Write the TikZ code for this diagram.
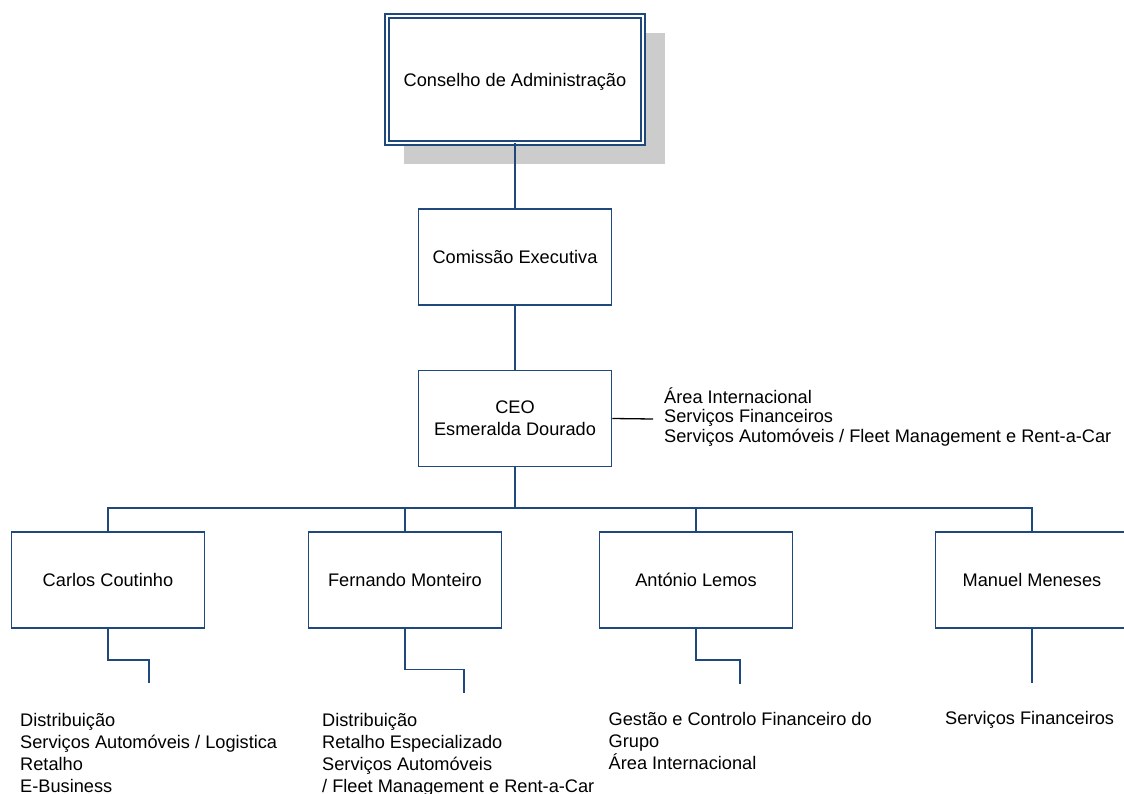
\documentclass[tikz,border=0pt]{standalone}
\usepackage{fontspec}
\setmainfont{Liberation Sans}
\usepackage{xcolor}
\usepackage{tikz}
\usetikzlibrary{backgrounds,calc}
\definecolor{orgblue}{HTML}{1F497D}
\definecolor{shadowgray}{gray}{0.8}
\newcommand{\orgfont}{\fontsize{18.2pt}{22pt}\selectfont}
\newcommand{\notefont}{\fontsize{18.2pt}{19.7pt}\selectfont}

\begin{document}
\begin{tikzpicture}[x=1pt,y=-1pt,font=\orgfont,
  unit/.style={draw=orgblue,line width=1.6pt,fill=white,minimum width=193pt,minimum height=96pt,align=center,inner sep=2pt},
  link/.style={draw=orgblue,line width=1.6pt},
  list/.style={anchor=north west,inner sep=0pt,align=left}]
\useasboundingbox (0,0) rectangle (1124,794);
% board with shadow
\node[unit,double=white,line width=1.4pt,double distance=2.6pt,minimum width=256pt,minimum height=127pt,outer sep=0pt,text depth=0pt] (board) at (515,79.5) {Conselho de Administração};
\begin{scope}[on background layer]
\fill[shadowgray] ($(board.north west)+(17,17)$) rectangle ($(board.south east)+(22,21)$);
\end{scope}
\node[unit] (exec) at (515,257) {Comissão Executiva};
\node[unit] (ceo) at (515,418.5) {CEO\\Esmeralda Dourado};
\foreach \nm/\x/\who in {carlos/108/Carlos Coutinho,fernando/405/Fernando Monteiro,antonio/696/António Lemos,manuel/1032/Manuel Meneses}
  \node[unit] (\nm) at (\x,580) {\who};
% side note of the ceo
\node[list,font=\notefont] (ceonote) at (664,387.2) {\strut Área Internacional\\Serviços Financeiros\\Serviços Automóveis / Fleet Management e Rent-a-Car};
\coordinate (ceotap) at (653,419);
\draw[line width=1.3pt] (ceo.east) -- (ceotap);
% tree
\coordinate (hub) at (515,507.7);
\draw[link] (board.south) -- (exec.north);
\draw[link] (exec.south) -- (ceo.north);
\draw[link] (ceo.south) -- (hub);
\draw[link] (carlos.north) |- (hub) -| (manuel.north);
\foreach \nm in {fernando,antonio}
  \draw[link] (\nm.north) -- (\nm.north |- hub);
% areas below each director
\coordinate (carlosend) at (149,683);
\coordinate (fernandoend) at (464,693);
\coordinate (antonioend) at (740,684);
\coordinate (manuelend) at (1032,683.3);
\draw[link] (carlos.south) -- ++(0,31) -| (carlosend);
\draw[link] (fernando.south) -- ++(0,40.5) -| (fernandoend);
\draw[link] (antonio.south) -- ++(0,31) -| (antonioend);
\draw[link] (manuel.south) -- (manuelend);
\node[list] (carloslist) at (20,710.6) {\strut Distribuição\\Serviços Automóveis / Logistica\\Retalho\\E-Business};
\node[list] (fernandolist) at (322,710.6) {\strut Distribuição\\Retalho Especializado\\Serviços Automóveis\\/ Fleet Management e Rent-a-Car};
\node[list] (antoniolist) at (608.5,710.3) {\strut Gestão e Controlo Financeiro do\\Grupo\\Área Internacional};
\node[list] (manuellist) at (945,709) {\strut Serviços Financeiros};
\end{tikzpicture}
\end{document}
